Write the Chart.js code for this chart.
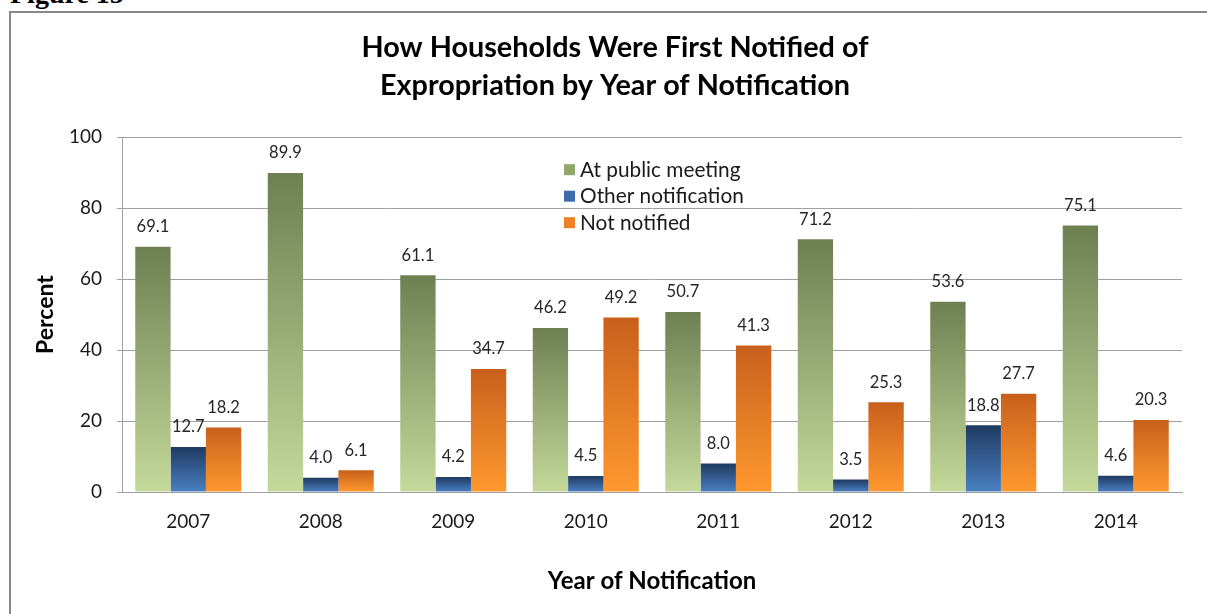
<!DOCTYPE html>
<html>
<head>
<meta charset="utf-8">
<script src="https://cdn.jsdelivr.net/npm/chart.js@4.4.1/dist/chart.umd.min.js"></script>
<style>
  html, body { margin: 0; padding: 0; background: #fff; overflow: hidden; }
  #fig { position: absolute; left: 10px; top: -20px; font: bold 28px "Liberation Serif", serif; line-height: 28px; color: #000; }
  #box { position: absolute; left: 9px; top: 11px; width: 1300px; height: 700px; border: 2px solid #888; }
  #myChart { position: absolute; left: 0; top: 0; }
</style>
</head>
<body>
<div id="fig">Figure 15</div>
<div id="box"></div>
<canvas id="myChart" width="1207" height="614"></canvas>
<script>
// data
var years = ['2007', '2008', '2009', '2010', '2011', '2012', '2013', '2014'];
var publicMeeting = [69.1, 89.9, 61.1, 46.2, 50.7, 71.2, 53.6, 75.1];
var otherNotification = [12.7, 4.0, 4.2, 4.5, 8.0, 3.5, 18.8, 4.6];
var notNotified = [18.2, 6.1, 34.7, 49.2, 41.3, 25.3, 27.7, 20.3];
var yTicks = [0, 20, 40, 60, 80, 100];

var FONT = 'Lato, "Open Sans", sans-serif';

// vertical gradient per bar, dark at the top, light at the base
barGradient = (top, bottom) => {
    return function (c) {
        var chart = c.chart;
        if (c.type !== 'data' || !chart.chartArea) return bottom;
        var y = chart.scales.y;
        var g = chart.ctx.createLinearGradient(0, y.getPixelForValue(c.raw), 0, y.getPixelForValue(0));
        g.addColorStop(0, top);
        g.addColorStop(1, bottom);
        return g;
    };
};

var valueLabels = {
    id: 'valueLabels',
    afterDatasetsDraw(chart) {
        var ctx = chart.ctx;
        ctx.save();
        ctx.font = '16.5px ' + FONT;
        ctx.fillStyle = '#262626';
        ctx.textAlign = 'center';
        ctx.textBaseline = 'middle';
        chart.data.datasets.forEach((ds, i) => {
            chart.getDatasetMeta(i).data.forEach((bar, j) => {
                ctx.fillText(ds.data[j].toFixed(1), bar.x, bar.y - 20);
            });
        });
        ctx.restore();
    }
};

var insideLegend = {
    id: 'insideLegend',
    afterDraw(chart) {
        var ctx = chart.ctx;
        var a = chart.chartArea;
        var x = a.left + a.width * 0.417;
        var y = a.top + 33;
        ctx.save();
        ctx.font = '20.8px ' + FONT;
        ctx.textBaseline = 'middle';
        chart.data.datasets.forEach((ds, i) => {
            var yy = y + i * 26.5;
            ctx.fillStyle = ds.legendColor;
            ctx.fillRect(x, yy - 6, 11, 11);
            ctx.fillStyle = '#1a1a1a';
            ctx.fillText(ds.label, x + 16, yy);
        });
        ctx.restore();
    }
};

var ctx = document.getElementById('myChart');

var lineGraph = new Chart(ctx, {
    type: 'bar',
    data: {
        labels: years,
        datasets: [
            {
                label: 'At public meeting',
                data: publicMeeting,
                backgroundColor: barGradient('#6E7F52', '#C4D99A'),
                legendColor: '#8FA86A'
            },
            {
                label: 'Other notification',
                data: otherNotification,
                backgroundColor: barGradient('#1F3A62', '#4A80C2'),
                legendColor: '#3C6EAA'
            },
            {
                label: 'Not notified',
                data: notNotified,
                backgroundColor: barGradient('#C8601C', '#FF982E'),
                legendColor: '#EE8128'
            }
        ]
    },
    options: {
        responsive: false,
        animation: false,
        events: [],
        categoryPercentage: 0.8,
        barPercentage: 1.0,
        layout: { padding: { left: 48, right: 25, top: 12, bottom: 12 } },
        plugins: {
            legend: { display: false },
            tooltip: { enabled: false },
            title: {
                display: true,
                text: ['How Households Were First Notified of', 'Expropriation by Year of Notification'],
                color: '#000',
                font: { family: FONT, size: 28.8, weight: 'bold', lineHeight: 1.34 },
                padding: { top: 16, bottom: 32 }
            }
        },
        scales: {
            x: {
                grid: { display: false, drawTicks: false },
                border: { display: true, color: '#A0A0A0' },
                ticks: { color: '#1a1a1a', font: { family: FONT, size: 19 }, padding: 18 },
                title: {
                    display: true,
                    text: 'Year of Notification',
                    color: '#000',
                    font: { family: FONT, size: 24, weight: 'bold' },
                    padding: { top: 0, bottom: 6 }
                },
                afterFit(s) { s.height = 110; }
            },
            y: {
                min: 0,
                max: 100,
                afterBuildTicks(s) { s.ticks = yTicks.map(v => ({ value: v })); },
                grid: { color: '#A0A0A0', tickLength: 5 },
                border: { display: true, color: '#A0A0A0' },
                ticks: { color: '#1a1a1a', font: { family: FONT, size: 19 }, padding: 15 },
                title: {
                    display: true,
                    text: 'Percent',
                    color: '#000',
                    font: { family: FONT, size: 23, weight: 'bold' },
                    padding: { top: -16, bottom: 0 }
                },
                afterFit(s) { s.width = 74; }
            }
        }
    },
    plugins: [valueLabels, insideLegend]
});
</script>
</body>
</html>
